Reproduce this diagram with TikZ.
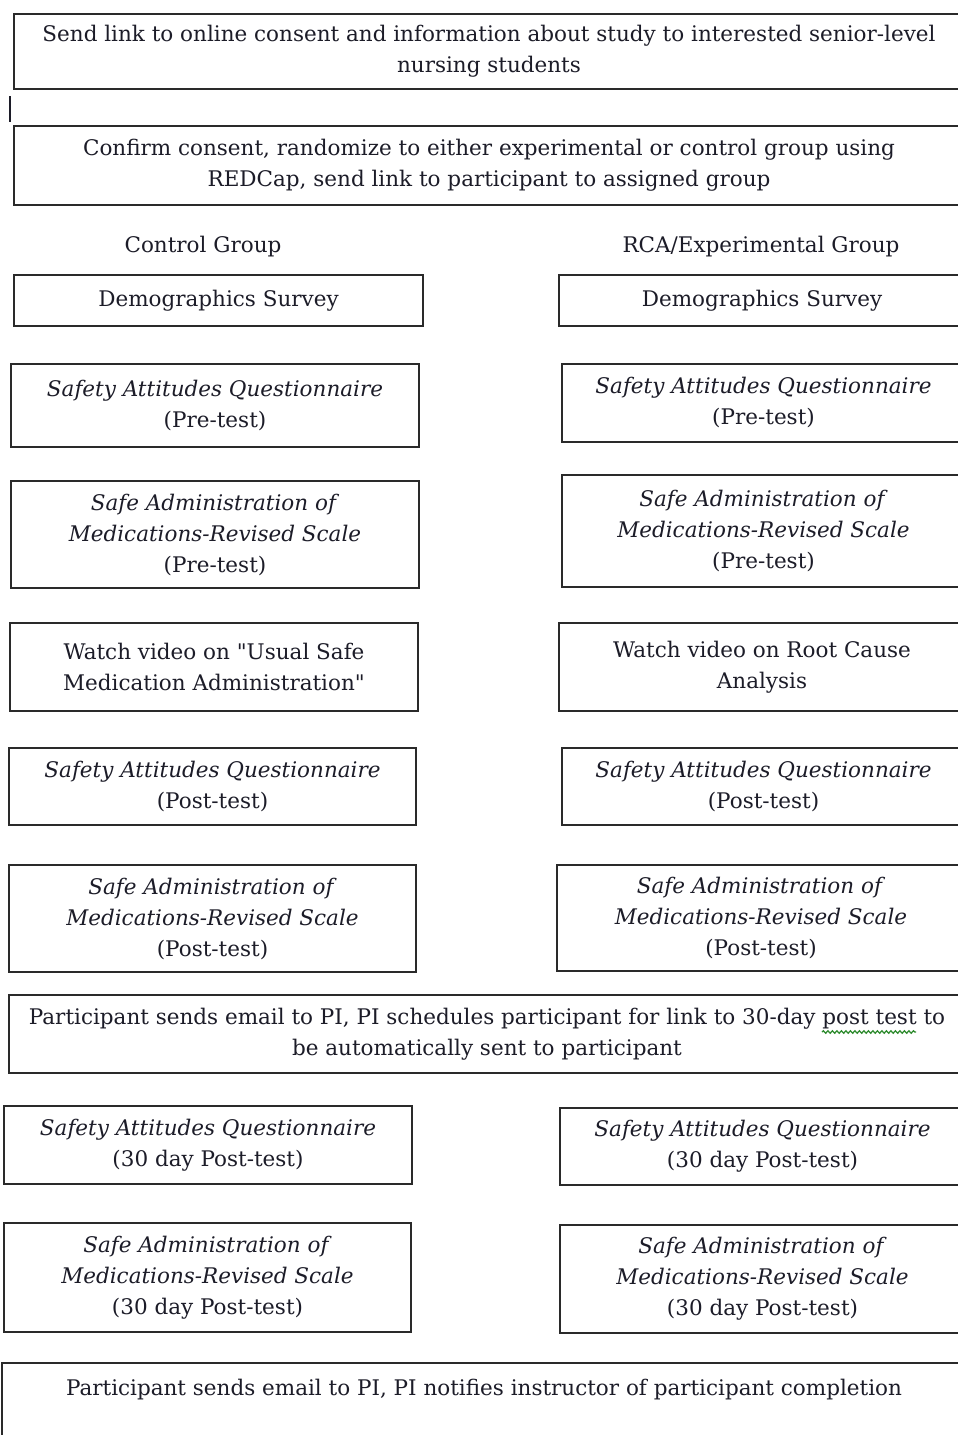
\documentclass[tikz,border=0pt]{standalone}
\usepackage{fontspec}
\setmainfont{DejaVu Serif}
\usetikzlibrary{decorations.pathmorphing}
\definecolor{ink}{HTML}{1C1C28}
\definecolor{edge}{HTML}{2A2A2A}
\definecolor{spell}{HTML}{2E8B2E}
\tikzset{
  box/.style={draw=edge, line width=1.6pt, fill=white, rectangle, inner sep=0pt,
    align=center, text=ink, font=\fontsize{21.5}{31}\selectfont},
  lbl/.style={text=ink, inner sep=0pt, font=\fontsize{21.5}{31}\selectfont},
  squiggle/.style={draw=spell, line width=1.3pt, decorate,
    decoration={snake, amplitude=1.2pt, segment length=4.5pt}}
}
\newcommand{\bx}[6]{%
  \pgfmathsetmacro{\cxx}{(#2+#4)/2}\pgfmathsetmacro{\cyy}{(#3+#5)/2}%
  \pgfmathsetmacro{\ww}{#4-#2}\pgfmathsetmacro{\hh}{#5-#3}%
  \node[box, minimum width=\ww pt, minimum height=\hh pt] (#1) at (\cxx,\cyy) {#6};}
\begin{document}
\begin{tikzpicture}[x=1pt,y=-1pt]
\useasboundingbox (0,0) rectangle (958,1435);
\clip (0,0) rectangle (958,1435);
\fill[white] (0,0) rectangle (958,1435);
% top
\bx{send}{14}{14}{964}{89}{Send link to online consent and information about study to interested senior-level\\nursing students}
\draw[ink, line width=2pt] (10,96) coordinate (m1) -- (10,122) coordinate (m2);
\bx{confirm}{14}{126}{964}{205}{Confirm consent, randomize to either experimental or control group using\\REDCap, send link to participant to assigned group}
\node[lbl] (cg) at (203,247) {Control Group};
\node[lbl] (eg) at (761,247) {RCA/Experimental Group};
% left column
\bx{ld}{14}{275}{423}{326}{Demographics Survey}
\bx{lsaq1}{11}{364}{419}{447}{\textit{Safety Attitudes Questionnaire}\\(Pre-test)}
\bx{lsam1}{11}{481}{419}{588}{\textit{Safe Administration of}\\\textit{Medications-Revised Scale}\\(Pre-test)}
\bx{lvid}{10}{623}{418}{711}{Watch video on \textquotedbl Usual Safe\\Medication Administration\textquotedbl}
\bx{lsaq2}{9}{748}{416}{825}{\textit{Safety Attitudes Questionnaire}\\(Post-test)}
\bx{lsam2}{9}{865}{416}{972}{\textit{Safe Administration of}\\\textit{Medications-Revised Scale}\\(Post-test)}
% right column
\bx{rd}{559}{275}{965}{326}{Demographics Survey}
\bx{rsaq1}{562}{364}{965}{442}{\textit{Safety Attitudes Questionnaire}\\(Pre-test)}
\bx{rsam1}{562}{475}{965}{587}{\textit{Safe Administration of}\\\textit{Medications-Revised Scale}\\(Pre-test)}
\bx{rvid}{559}{623}{965}{711}{Watch video on Root Cause\\Analysis}
\bx{rsaq2}{562}{748}{965}{825}{\textit{Safety Attitudes Questionnaire}\\(Post-test)}
\bx{rsam2}{557}{865}{965}{971}{\textit{Safe Administration of}\\\textit{Medications-Revised Scale}\\(Post-test)}
% participant
\bx{part}{9}{995}{965}{1073}{Participant sends email to PI, PI schedules participant for link to 30-day post test to\\be automatically sent to participant}
\draw[squiggle] (822,1032) coordinate (sq1) -- (916,1032) coordinate (sq2);
% 30 day
\bx{lsaq3}{4}{1106}{412}{1184}{\textit{Safety Attitudes Questionnaire}\\(30 day Post-test)}
\bx{lsam3}{4}{1223}{411}{1332}{\textit{Safe Administration of}\\\textit{Medications-Revised Scale}\\(30 day Post-test)}
\bx{rsaq3}{560}{1108}{965}{1185}{\textit{Safety Attitudes Questionnaire}\\(30 day Post-test)}
\bx{rsam3}{560}{1225}{965}{1333}{\textit{Safe Administration of}\\\textit{Medications-Revised Scale}\\(30 day Post-test)}
% bottom
\draw[draw=edge, line width=1.6pt] (2,1450) -- (2,1363) -- (965,1363);
\node[lbl] (fin) at (484,1390) {Participant sends email to PI, PI notifies instructor of participant completion};
\end{tikzpicture}
\end{document}
